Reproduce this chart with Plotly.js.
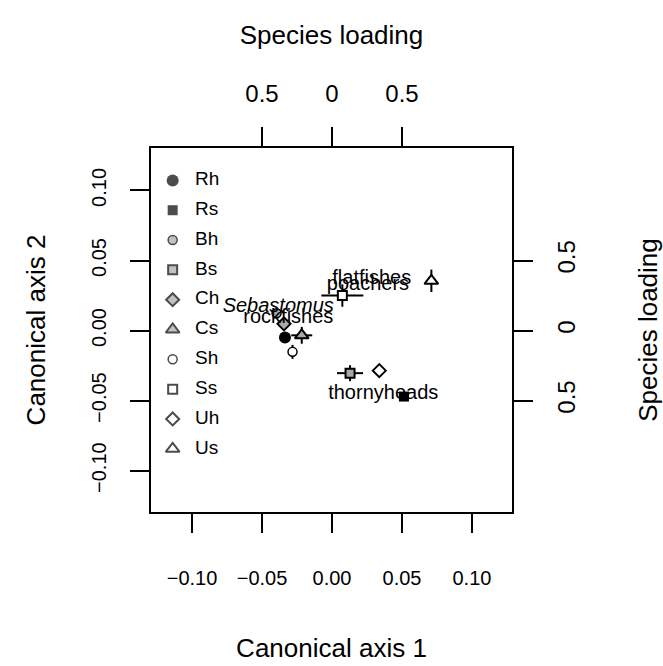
<!DOCTYPE html>
<html>
<head>
<meta charset="utf-8">
<script src="https://cdn.plot.ly/plotly-3.0.1.min.js"></script>
<style>html,body{margin:0;padding:0;background:#fff}</style>
</head>
<body>
<div id="chart" style="width:663px;height:666px"></div>
<script>
// ---- data ----
var groups = ['Rh','Rs','Bh','Bs','Ch','Cs','Sh','Ss','Uh','Us'];
var axis1 = [-0.0336, 0.0514, -0.0396, 0.0129, -0.0343, -0.0216, -0.0282, 0.0074, 0.0338, 0.0710];
var axis2 = [-0.0049, -0.0471, 0.0124, -0.0304, 0.0048, -0.0034, -0.0152, 0.0250, -0.0286, 0.0355];
var errAxis1 = [0.002, 0, 0, 0.0093, 0, 0.0075, 0.001, 0.0150, 0, 0.002];
var errAxis2 = [0.001, 0, 0, 0.0057, 0, 0.0060, 0.0050, 0.0080, 0, 0.0080];

var loadingNames = ['flatfishes','poachers','Sebastomus','rockfishes','thornyheads'];
var loading1 = [0.284, 0.257, -0.384, -0.312, 0.366];
var loading2 = [0.367, 0.326, 0.167, 0.089, -0.454];

var canonTicks = [-0.10, -0.05, 0.00, 0.05, 0.10];
var loadTicks = [-0.5, 0, 0.5];
var loadTickText = ['0.5', '0', '0.5'];

// ---- styles ----
var GRAY = '#a8a8a8';
var style = {
  Rh: {symbol:'circle', fill:'#000', size:12, lw:0},
  Rs: {symbol:'square', fill:'#000', size:10, lw:0},
  Bh: {symbol:'circle', fill:GRAY, size:9, lw:1.5},
  Bs: {symbol:'square', fill:GRAY, size:9, lw:2},
  Ch: {symbol:'diamond', fill:GRAY, size:10, lw:2},
  Cs: {symbol:'triangle-up', fill:GRAY, size:12, lw:2},
  Sh: {symbol:'circle', fill:'#fff', size:9, lw:1.5},
  Ss: {symbol:'square', fill:'#fff', size:9, lw:2},
  Uh: {symbol:'diamond', fill:'#fff', size:10, lw:2},
  Us: {symbol:'triangle-up', fill:'#fff', size:12, lw:2}
};
var FONT = 'Liberation Sans, Arial, sans-serif';
var TITLE_FONT = {family:FONT, size:26, color:'#000'};

var traces = [];

// points with error bars
var drawOrder = ['Bh','Ch','Rh','Cs','Sh','Ss','Us','Bs','Uh','Rs'];
drawOrder.forEach(function(g){
  var i = groups.indexOf(g);
  var s = style[g];
  traces.push({
    type:'scatter', mode:'markers', name:g, showlegend:false,
    x:[axis1[i]], y:[axis2[i]], xaxis:'x', yaxis:'y',
    error_x:{type:'data', array:[errAxis1[i]], visible:errAxis1[i]>0, color:'#000', thickness:2, width:0},
    error_y:{type:'data', array:[errAxis2[i]], visible:errAxis2[i]>0, color:'#000', thickness:2, width:0},
    marker:{symbol:s.symbol, color:s.fill, size:s.size, line:{color:'#000', width:s.lw}},
    hoverinfo:'skip'
  });
});

// species loading labels
traces.push({
  type:'scatter', mode:'text', showlegend:false,
  x:loading1, y:loading2, xaxis:'x2', yaxis:'y2',
  text:loadingNames.map(function(n){ return n==='Sebastomus' ? '<i>'+n+'</i>' : n; }),
  textposition:'middle center',
  textfont:{family:FONT, size:20, color:'#000'},
  hoverinfo:'skip'
});

// legend drawn inside the plot on a hidden axis pair
var legIdx = groups.map(function(g,i){ return i; });
traces.push({
  type:'scatter', mode:'markers', showlegend:false,
  x:groups.map(function(){ return 0.06; }), y:legIdx, xaxis:'x3', yaxis:'y3',
  marker:{
    symbol:groups.map(function(g){ return style[g].symbol; }),
    color:groups.map(function(g){ return style[g].fill; }),
    size:groups.map(function(g){ return style[g].size; }),
    line:{color:'#000', width:groups.map(function(g){ return style[g].lw; })}
  },
  hoverinfo:'skip'
});
traces.push({
  type:'scatter', mode:'text', showlegend:false,
  x:groups.map(function(){ return 0.122; }), y:legIdx, xaxis:'x3', yaxis:'y3',
  text:groups, textposition:'middle right',
  textfont:{family:FONT, size:19, color:'#000'},
  hoverinfo:'skip'
});

var common = {
  showgrid:false, zeroline:false, showline:true, linecolor:'#000', linewidth:2,
  ticks:'outside', ticklen:19, tickwidth:2, tickcolor:'#000',
  tickfont:{family:FONT, size:20, color:'#000'}
};
var BIG_TICK_FONT = {family:FONT, size:24, color:'#000'};
function ax(o){ var r = {}; for (var k in common) r[k]=common[k]; for (var k2 in o) r[k2]=o[k2]; return r; }

var layout = {
  width:663, height:666,
  margin:{l:151, r:151, t:148, b:154, pad:0},
  paper_bgcolor:'#fff', plot_bgcolor:'#fff',
  font:{family:FONT, size:19, color:'#000'},
  showlegend:false,
  xaxis: ax({range:[-0.1293,0.1286], tickvals:canonTicks, tickformat:'.2f', anchor:'y', side:'bottom',
    ticklabelstandoff:28,
    title:{text:'Canonical axis 1', font:TITLE_FONT, standoff:51}}),
  yaxis: ax({range:[-0.1295,0.1303], tickvals:canonTicks, tickformat:'.2f', anchor:'x', side:'left',
    tickangle:-90, ticklabelstandoff:16,
    title:{text:'Canonical axis 2', font:TITLE_FONT, standoff:35}}),
  xaxis2: ax({range:[-1.293,1.286], tickvals:loadTicks, ticktext:loadTickText, overlaying:'x', side:'top', anchor:'y',
    ticklabelstandoff:15, tickfont:BIG_TICK_FONT,
    title:{text:'Species loading', font:TITLE_FONT, standoff:28}}),
  yaxis2: ax({range:[-1.295,1.303], tickvals:loadTicks, ticktext:loadTickText, overlaying:'y', side:'right', anchor:'x',
    tickangle:-90, ticklabelstandoff:13, tickfont:BIG_TICK_FONT,
    title:{text:'Species loading', font:TITLE_FONT, standoff:62}}),
  xaxis3: {range:[0,1], overlaying:'x', visible:false, fixedrange:true},
  yaxis3: {range:[11.12,-1.087], overlaying:'y', visible:false, fixedrange:true}
};

Plotly.newPlot('chart', traces, layout, {displayModeBar:false, staticPlot:true});
</script>
</body>
</html>
